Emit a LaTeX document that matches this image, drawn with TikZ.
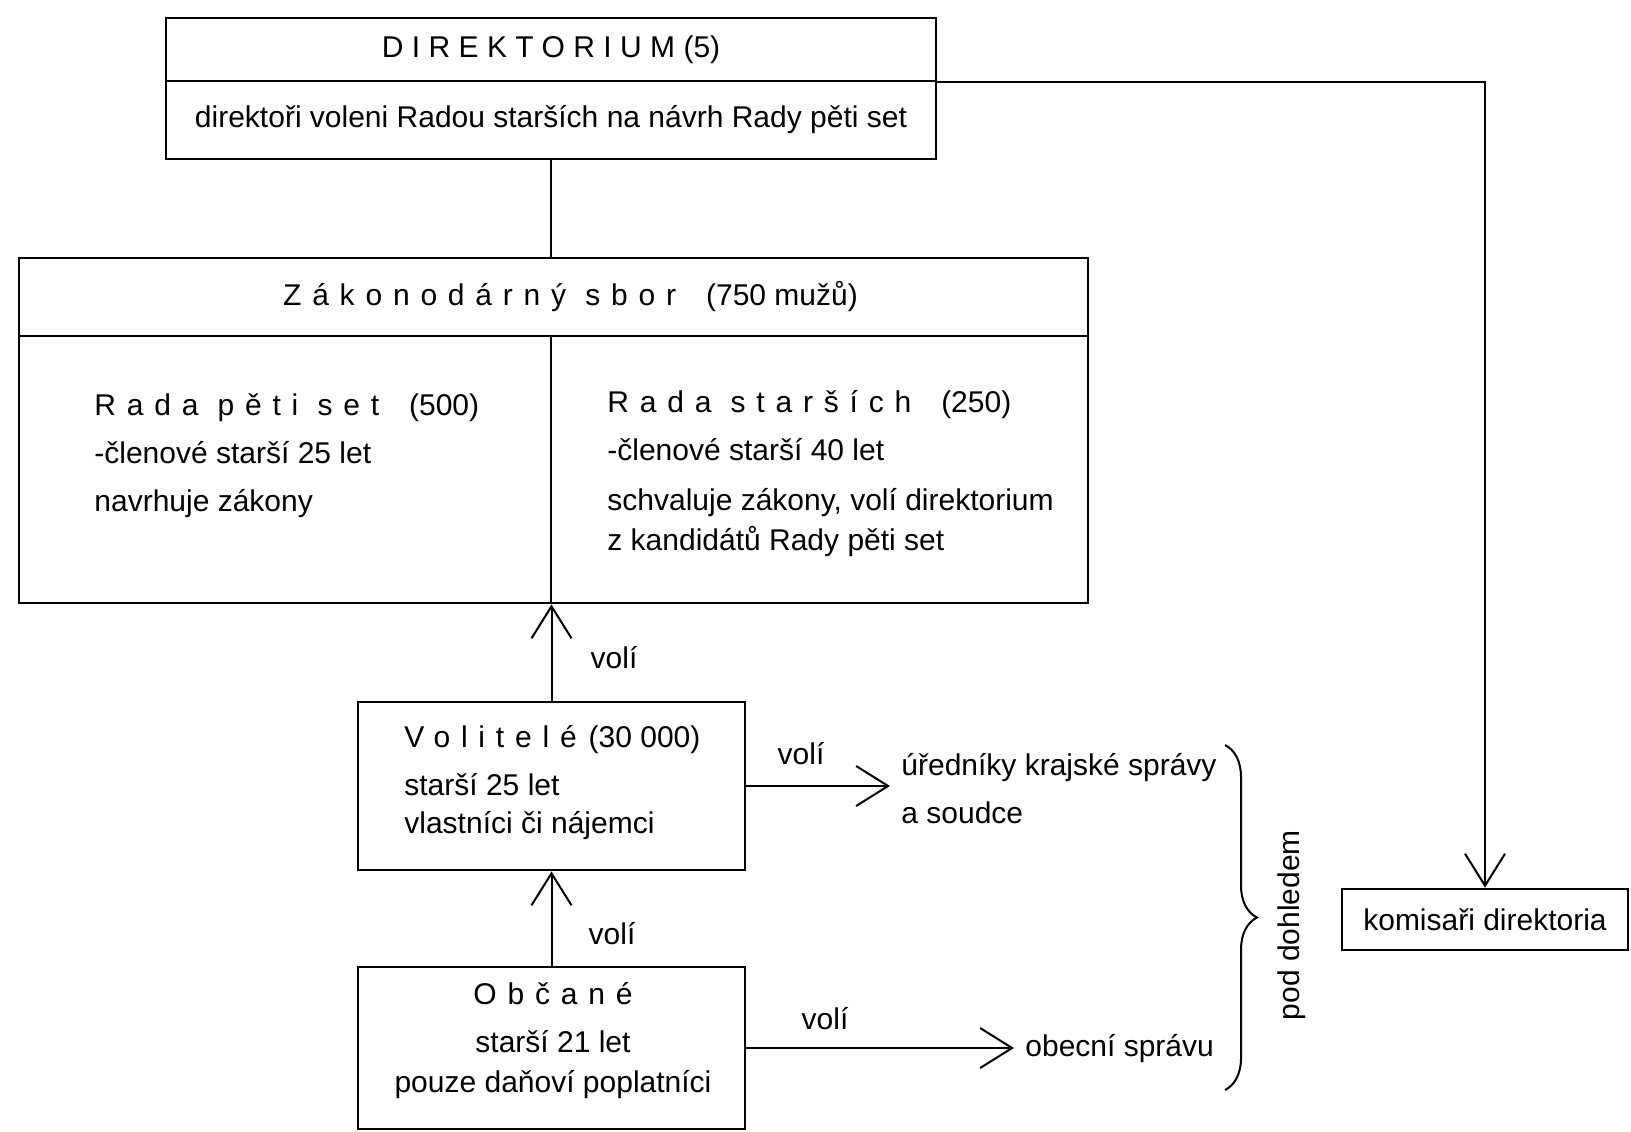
\documentclass[tikz,border=0pt]{standalone}
\usepackage{fontspec}
\setmainfont{Liberation Sans}
\usetikzlibrary{arrows.meta, decorations.pathreplacing}
\newcommand{\rozpal}[2][36]{{\addfontfeature{LetterSpace=#1}#2}}

\begin{document}
\begin{tikzpicture}[
  x = 0.5pt, y = -0.5pt,
  font = \fontsize{15}{20}\selectfont,
  frame/.style = {rectangle, draw, line width=1.4pt, inner sep=0pt},
  txt/.style = {align=left, inner sep=0pt},
  target/.style = {align=left, inner sep=5.5pt},
  arrow/.style = {-{Straight Barb[length=16pt, width=20pt]}, line width=1pt},
  link/.style = {line width=1pt},
]
\useasboundingbox (0,0) rectangle (1631,1131);

% direktorium
\node[frame, minimum width=385pt, minimum height=31.5pt] (dirhead) at (551,49.5) {\rozpal[28]{DIREKTORIUM} (5)};
\node[frame, minimum width=385pt, minimum height=39pt] (dirbody) at (551,120) {direktoři voleni Radou starších na návrh Rady pěti set};

% zakonodarny sbor
\node[frame, minimum width=534.5pt, minimum height=39pt] (zakhead) at (553.5,297) {\hspace*{17pt}\rozpal{Zákonodárný sbor}\quad(750 mužů)};
\node[frame, minimum width=266pt, minimum height=133.5pt] (rada500) at (285,469.5) {};
\node[frame, minimum width=268.5pt, minimum height=133.5pt] (radastar) at (819.5,469.5) {};
% base = posledni radek
\node[txt, anchor=base west] (rada500txt) at (94,511) {\rozpal{Rada pěti set}\quad(500)\\[4pt] -členové starší 25 let\\[4pt] navrhuje zákony};
\node[txt, anchor=base west] (radastartxt) at (607,550) {\rozpal{Rada starších}\quad(250)\\[4pt] -členové starší 40 let\\[5pt] schvaluje zákony, volí direktorium\\ z kandidátů Rady pěti set};

% volitele a obcane
\node[frame, minimum width=193.5pt, minimum height=84pt] (volitele) at (551.5,786) {};
\node[txt, anchor=base west] (voltxt) at (404,833) {\rozpal{Volitelé}\hspace{6pt}(30~000)\\[4pt] starší 25 let\\[-1pt] vlastníci či nájemci};
\node[frame, minimum width=193.5pt, minimum height=81pt] (obcane) at (551.5,1048) {};
\node[txt, align=center, anchor=base] (obctxt) at (553,1092) {\rozpal{Občané}\\[4pt] starší 21 let\\ pouze daňoví poplatníci};

% komu voli
\node[target, anchor=base west] (urednici) at (890,823) {úředníky krajské správy\\[4pt] a soudce};
\node[target, anchor=base west] (obecni) at (1014,1056) {obecní správu};
\node[frame, minimum width=143pt, minimum height=30.5pt] (komisari) at (1485,919.5) {komisaři direktoria};

\node (volba1) at (614,658) {volí};
\node (volba2) at (801,754) {volí};
\node (volba3) at (612,934) {volí};
\node (volba4) at (825,1019) {volí};

% dohled
\coordinate (bractop) at (1225,745);
\coordinate (bracbot) at (1225,1090);
\draw[link, decorate, decoration={brace, amplitude=16pt}] (bractop) -- (bracbot);
\node[rotate=90] (dohled) at (1292,925) {pod dohledem};

\draw[link] (dirbody.south) -- (dirbody.south |- zakhead.north);
\draw[arrow] (dirhead.south east) -| (komisari.north);
\draw[arrow] (volitele.north) -- (volitele.north |- rada500.south);
\draw[arrow] (obcane.north) -- (volitele.south);
\draw[arrow] (volitele.east) -- (volitele.east -| urednici.west);
\draw[arrow] (obcane.east) -- (obcane.east -| obecni.west);
\end{tikzpicture}
\end{document}
